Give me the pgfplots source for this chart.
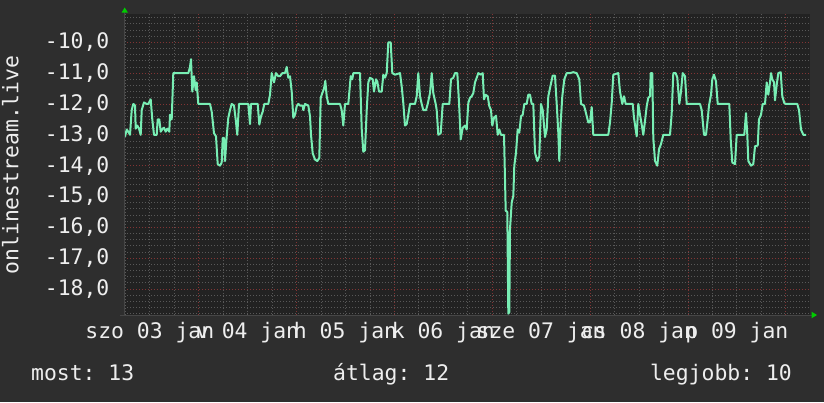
\documentclass[border=0pt]{standalone}
\usepackage{fontspec}
\setmainfont{DejaVu Sans Mono}
\usepackage{pgfplots}
\pgfplotsset{compat=1.18}
\frenchspacing
\definecolor{outerbg}{RGB}{46,46,46}
\definecolor{canvas}{RGB}{34,34,34}
\definecolor{gridgray}{RGB}{88,88,88}
\definecolor{gridred}{RGB}{130,52,52}
\definecolor{linegreen}{RGB}{120,238,180}
\definecolor{txt}{RGB}{238,238,238}
\definecolor{arrowgreen}{RGB}{0,204,0}
\definecolor{axiscol}{RGB}{70,70,70}
\newcommand\ff{\fontsize{21.4}{25}\selectfont}
\begin{document}
\begin{tikzpicture}[x=1pt,y=1pt]
\path[use as bounding box] (0,0) rectangle (824,402);
\fill[outerbg] (0,0) rectangle (824,402);
\begin{axis}[
  at={(124pt,87pt)}, anchor=south west,
  scale only axis, width=686pt, height=300.5pt,
  xmin=124, xmax=810, ymin=-18.843, ymax=-9.099,
  axis line style={draw=none},
  axis background/.style={fill=canvas},
  major tick length=0pt, minor tick length=0pt,
  xtick={149.8,247.6,345.5,443.3,541.1,639.0,736.8},
  xticklabels={szo 03 jan, v 04 jan, h 05 jan, k 06 jan, sze 07 jan, cs 08 jan, p 09 jan},
  xticklabel style={anchor=base, yshift=-23.3pt, inner sep=0pt},
  minor xtick={125.3,149.8,174.2,223.2,247.6,272.1,321.0,345.5,369.9,418.8,443.3,467.8,516.7,541.1,565.6,614.5,639.0,663.4,712.3,736.8,761.2},
  extra x ticks={198.7,296.5,394.4,492.2,590.0,687.9,785.7},
  extra x tick labels={},
  extra x tick style={grid=major},
  xmajorgrids=false, xminorgrids=true,
  ytick={-18,-17,-16,-15,-14,-13,-12,-11,-10},
  yticklabels={{-18,0},{-17,0},{-16,0},{-15,0},{-14,0},{-13,0},{-12,0},{-11,0},{-10,0}},
  yticklabel style={anchor=east, inner sep=0pt, xshift=-14.5pt},
  minor ytick={-18.8,-18.6,-18.4,-18.2,-17.8,-17.6,-17.4,-17.2,-16.8,-16.6,-16.4,-16.2,-15.8,-15.6,-15.4,-15.2,-14.8,-14.6,-14.4,-14.2,-13.8,-13.6,-13.4,-13.2,-12.8,-12.6,-12.4,-12.2,-11.8,-11.6,-11.4,-11.2,-10.8,-10.6,-10.4,-10.2,-9.8,-9.6,-9.4,-9.2},
  ymajorgrids=true, yminorgrids=true,
  major grid style={gridred, line width=0.8pt, dash pattern=on 1pt off 2pt},
  minor grid style={gridgray, line width=0.8pt, dash pattern=on 1pt off 2pt},
  tick label style={font=\ff, text=txt},
]
\addplot[linegreen, line width=2pt, line join=round, mark=none] coordinates {
(125,-13.06) (126.7,-12.83) (128.3,-12.9) (130,-13.0) (131.7,-12.2) (133.3,-12.0) (135,-12.05) (135.7,-12.8) (137.3,-12.7) (139,-12.8) (140.7,-13.0) (141.7,-12.2) (144,-11.95) (146.7,-12.0) (148.3,-12.0) (150.7,-11.85) (152.3,-12.5) (154,-13.0) (156.7,-13.0) (157.7,-12.5) (159.3,-12.5) (160.7,-12.9) (162.7,-12.8) (164,-12.77) (165.7,-12.9) (167.3,-12.8) (169.3,-12.9) (170,-12.35) (171.7,-12.5) (173.3,-11.0) (188.3,-11.0) (190,-10.8) (191,-10.55) (192.3,-11.6) (194,-11.1) (195.7,-11.55) (196.7,-11.3) (198.3,-12.0) (210,-12.0) (211.7,-12.25) (214,-12.95) (216,-13.05) (217.7,-13.95) (220,-14.0) (221.7,-13.9) (222.7,-13.1) (224,-13.1) (225,-13.85) (226.7,-13.05) (228.3,-12.45) (230,-12.2) (231.7,-12.0) (234,-12.05) (235.7,-12.5) (237.3,-13.0) (239,-12.0) (248.3,-12.0) (250,-12.65) (251,-12.0) (257.7,-12.0) (259.3,-12.67) (261,-12.4) (262.7,-12.25) (264.3,-12.0) (268.3,-12.0) (270,-11.7) (271.7,-11.0) (274,-11.3) (276,-11.0) (278.3,-11.1) (280,-11.1) (282.3,-11.0) (285,-11.0) (286.7,-10.8) (288.3,-11.15) (290,-11.1) (291.7,-11.6) (293.3,-12.45) (295,-12.35) (296.7,-12.07) (298.3,-12.0) (300,-12.05) (302.7,-12.05) (303.3,-12.2) (305,-12.0) (308.3,-12.05) (310,-12.4) (311,-13.0) (312.7,-13.6) (315,-13.8) (317.3,-13.85) (319.3,-13.75) (320.7,-11.8) (322.3,-11.65) (324,-11.5) (325.3,-11.25) (326.7,-11.75) (328.3,-12.0) (340,-12.0) (341.7,-12.2) (343.3,-12.7) (345,-12.0) (348.3,-12.0) (350.7,-11.1) (352.3,-11.2) (353.3,-11.0) (360,-11.0) (361.7,-12.8) (363.3,-13.55) (365,-13.5) (366.7,-12.2) (368.3,-11.3) (370,-11.15) (372.7,-11.2) (374,-11.6) (376,-11.2) (377.3,-11.27) (379,-11.6) (381.7,-11.6) (383.3,-11.05) (385,-11.15) (386.7,-11.0) (388.3,-10.0) (390.7,-10.0) (392.3,-11.0) (395,-11.05) (400,-11.0) (401.7,-11.43) (403.3,-11.97) (405,-12.7) (406.7,-12.65) (408.3,-12.35) (410,-12.0) (415,-12.0) (416.7,-11.75) (418.3,-11.0) (420,-11.75) (421.7,-12.0) (423.3,-12.2) (426,-12.2) (427.7,-12.0) (430,-11.65) (431.7,-11.0) (433.3,-11.65) (435.7,-12.0) (436.7,-12.2) (438.3,-13.0) (440.7,-12.95) (442.7,-12.0) (449.3,-12.0) (451,-11.2) (453.3,-11.15) (455,-11.0) (457.3,-11.0) (459,-11.95) (460.7,-13.15) (462.7,-12.77) (465,-12.7) (466.7,-12.83) (468.3,-11.97) (470,-11.8) (471.7,-11.75) (473.3,-11.65) (475,-11.3) (476.7,-11.15) (478.3,-11.0) (480.7,-11.05) (482.7,-11.0) (484,-11.85) (485.7,-11.7) (487.7,-11.75) (489.3,-12.07) (491,-12.2) (492.3,-12.7) (494,-12.45) (496,-12.38) (497.7,-13.0) (499.3,-12.83) (501,-13.0) (504,-13.0) (505.7,-15.46) (507.3,-15.5) (508.3,-18.8) (509.3,-18.75) (510,-16.05) (511.7,-15.2) (513.3,-14.98) (514.3,-14.0) (516,-13.58) (517.7,-12.83) (519.3,-12.93) (521,-12.4) (522.7,-12.35) (524.3,-12.0) (526.7,-12.0) (528.3,-11.7) (530,-11.7) (531.7,-12.0) (533.3,-12.0) (535,-13.58) (537.3,-13.85) (539.3,-13.7) (541,-12.0) (542.7,-12.2) (545,-13.07) (546.7,-12.83) (548.3,-11.75) (550.7,-11.38) (552.7,-11.08) (555,-11.08) (556.7,-12.0) (558.3,-12.93) (559.3,-13.85) (560.7,-12.6) (562.3,-11.75) (564.3,-11.2) (566.7,-11.0) (570,-11.0) (573.3,-10.97) (576.7,-11.0) (579.3,-11.2) (581,-12.0) (584,-12.05) (586,-12.3) (588.3,-12.6) (590,-12.6) (591.7,-12.1) (593.3,-13.0) (608.3,-13.0) (610,-12.6) (611.7,-11.97) (613.3,-11.05) (618.3,-11.0) (620,-11.6) (622.3,-12.0) (624,-11.75) (625.7,-12.0) (632.7,-12.0) (634,-12.45) (636.7,-13.05) (638.3,-12.0) (640,-12.35) (641.7,-12.67) (643.3,-13.0) (645,-12.55) (646.7,-12.07) (648.3,-11.8) (650,-11.75) (650.7,-11.0) (652.3,-11.0) (653.3,-13.1) (655,-13.85) (657.3,-14.0) (659,-13.47) (661,-13.3) (663.3,-13.0) (670,-13.0) (671.7,-12.3) (673.3,-11.0) (675.7,-11.0) (677.3,-11.15) (679.3,-12.0) (681,-11.6) (682.7,-11.0) (685,-11.1) (686.7,-12.0) (700,-12.0) (701.7,-12.2) (704,-13.0) (706,-13.0) (707.7,-12.5) (709,-12.05) (711,-11.7) (712.3,-11.2) (714,-11.05) (716,-11.27) (717.7,-12.0) (729.3,-12.0) (730.7,-13.15) (732.3,-13.9) (735,-13.95) (736.7,-13.0) (744.3,-13.0) (746,-12.3) (747.3,-13.0) (748.3,-13.85) (751,-14.0) (753.3,-13.95) (755,-13.37) (757.7,-13.35) (759,-12.5) (761,-12.35) (762.7,-12.0) (765,-12.0) (766.7,-11.3) (768.3,-11.7) (770,-11.3) (771,-11.0) (772.3,-11.2) (774,-11.3) (775,-11.88) (776.7,-11.38) (778.3,-11.0) (780.7,-10.97) (782.3,-11.75) (784.3,-11.97) (785.7,-12.0) (797.3,-12.0) (799,-12.2) (801,-12.83) (803.3,-13.0) (806,-13.0)
};
\end{axis}
% axis lines and arrows
\draw[axiscol, line width=1pt] (124,87) -- (124,390);
\draw[axiscol, line width=1pt] (120,87) -- (812,87);
\fill[arrowgreen] (124.7,394.5) -- (121.5,389.3) -- (128,389.3) -- cycle;
\fill[arrowgreen] (817,87) -- (811.5,90.3) -- (811.5,83.7) -- cycle;
% y label and legend
\node[rotate=90, anchor=base, font=\ff, text=txt, inner sep=0pt] at (18.3,237) {onlinestream.live};
\node[anchor=base west, font=\ff, text=txt, inner sep=0pt] at (31,22) {most: 13};
\node[anchor=base west, font=\ff, text=txt, inner sep=0pt] at (333,22) {átlag: 12};
\node[anchor=base east, font=\ff, text=txt, inner sep=0pt] at (792,22) {legjobb: 10};
\end{tikzpicture}
\end{document}
